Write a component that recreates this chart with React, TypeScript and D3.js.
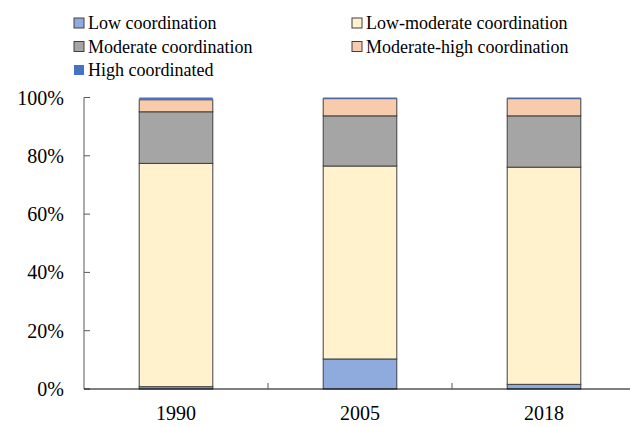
import React from 'react';
import * as d3 from 'd3';

// Categories and series (share of total, %)
const years = ['1990', '2005', '2018'];
const seriesNames = [
  'Low coordination',
  'Low-moderate coordination',
  'Moderate coordination',
  'Moderate-high coordination',
  'High coordinated',
];
const seriesColors = ['#8faadc', '#fff2cc', '#a5a5a5', '#f8cbad', '#4472c4'];
const lowValues = [0.8, 10.3, 1.6];
const lowModerateValues = [76.6, 66.2, 74.5];
const moderateValues = [17.7, 17.2, 17.6];
const moderateHighValues = [4.1, 5.9, 5.9];
const highValues = [0.8, 0.4, 0.4];
const yTicks = [0, 20, 40, 60, 80, 100];

const W = 630;
const H = 427;
const FONT = "'Liberation Serif', 'Times New Roman', serif";

export default function App() {
  const allSeries = [lowValues, lowModerateValues, moderateValues, moderateHighValues, highValues];
  const rows = years.map((year, i) => {
    const row: Record<string, number | string> = { year };
    seriesNames.forEach((name, s) => { row[name] = allSeries[s][i]; });
    return row;
  });
  const stacked = d3.stack<Record<string, number | string>>().keys(seriesNames)(rows as any);

  const x = d3.scaleBand().domain(years).range([84, 636]).paddingInner(0.6).paddingOuter(0.3);
  const y = d3.scaleLinear().domain([0, 100]).range([389, 97.5]);
  const step = x.step();
  const boundaries = years.slice(1).map(yr => (x(yr) as number) - step * 0.3);

  // legend layout: two columns
  const legendPos = (i: number) => ({ lx: i % 2 === 0 ? 74 : 352, ly: 23 + Math.floor(i / 2) * 23.5 });

  return (
    <svg width={W} height={H} style={{ position: 'absolute', left: 0, top: 0, background: '#fff', fontFamily: FONT }}>
      <rect width={W} height={H} fill="#fff" />
      {/* bars */}
      {stacked.map((layer, s) => (
        <g key={seriesNames[s]}>
          {layer.map((d, i) => (
            <rect
              key={years[i]}
              x={x(years[i])}
              y={y(d[1])}
              width={x.bandwidth()}
              height={y(d[0]) - y(d[1])}
              fill={seriesColors[s]}
              stroke={s === 4 ? 'none' : '#404040'}
              strokeWidth={1}
            />
          ))}
        </g>
      ))}
      {/* y axis */}
      <line x1={84} x2={84} y1={y(100)} y2={y(0)} stroke="#595959" strokeWidth={1} />
      {yTicks.map(t => (
        <g key={t}>
          <line x1={84} x2={90} y1={y(t)} y2={y(t)} stroke="#595959" strokeWidth={1} />
          <text x={64} y={y(t)} dy="0.35em" textAnchor="end" style={{ fontFamily: FONT, fontSize: 20 }} fill="#000">
            {t}%
          </text>
        </g>
      ))}
      {/* x axis */}
      <line x1={84} x2={W} y1={y(0)} y2={y(0)} stroke="#000" strokeWidth={1.2} />
      {boundaries.map(bx => (
        <line key={bx} x1={bx} x2={bx} y1={y(0)} y2={y(0) - 6} stroke="#595959" strokeWidth={1} />
      ))}
      {years.map(yr => (
        <text key={yr} x={(x(yr) as number) + x.bandwidth() / 2} y={420} textAnchor="middle" style={{ fontFamily: FONT, fontSize: 20 }} fill="#000">
          {yr}
        </text>
      ))}
      {/* legend */}
      {seriesNames.map((name, i) => {
        const { lx, ly } = legendPos(i);
        return (
          <g key={name}>
            <rect x={lx} y={ly - 5} width={10} height={10} fill={seriesColors[i]} stroke={i === 4 ? 'none' : '#404040'} strokeWidth={1} />
            <text x={lx + 14} y={ly} dy="0.35em" style={{ fontFamily: FONT, fontSize: 18 }} fill="#000">
              {name}
            </text>
          </g>
        );
      })}
    </svg>
  );
}
